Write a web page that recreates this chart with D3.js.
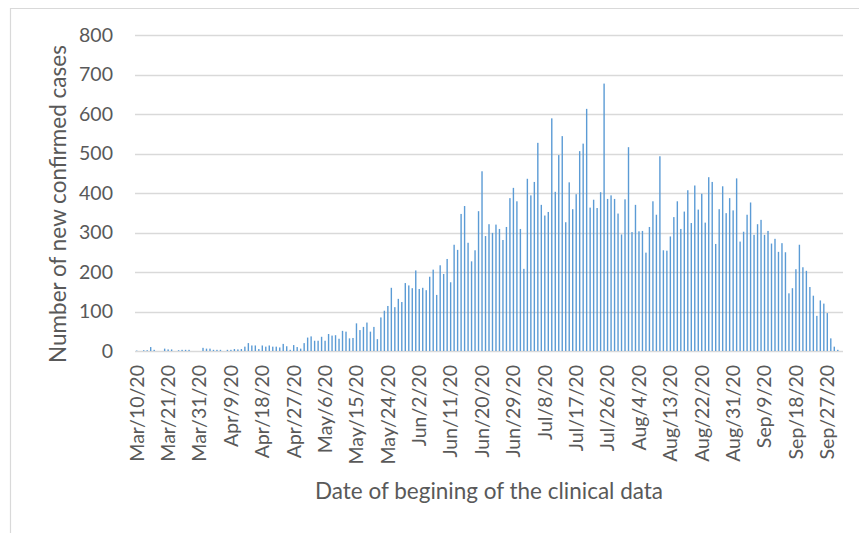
<!DOCTYPE html>
<html>
<head>
<meta charset="utf-8">
<script src="https://cdn.jsdelivr.net/npm/d3@7"></script>
<style>
  body { margin: 0; background: #ffffff; }
  text { font-family: Lato, "Open Sans", sans-serif; fill: #595959; }
</style>
</head>
<body>
<div id="chart"></div>
<script>

// #####################################################
// Data: daily new confirmed cases
//
var firstDay = '2020-03-10';
var lastDay = '2020-10-01';
// days with no record in the source sheet (category axis skips them)
var skippedDays = ['2020-03-12', '2020-03-15', '2020-03-26'];

var newCases = [
  1, 0, 2, 2, 10, 3, 0, 0, 6, 4,
  4, 0, 2, 3, 3, 3, 0, 0, 0, 8,
  6, 6, 3, 3, 3, 0, 3, 3, 5, 4,
  5, 11, 20, 14, 14, 5, 14, 11, 14, 11,
  11, 9, 18, 12, 3, 15, 10, 6, 20, 34,
  37, 26, 26, 36, 26, 43, 39, 40, 31, 51,
  49, 32, 33, 70, 53, 61, 72, 49, 61, 30,
  85, 102, 114, 160, 111, 132, 124, 172, 166, 159,
  204, 157, 160, 154, 188, 206, 142, 217, 195, 233,
  174, 269, 256, 347, 367, 274, 227, 255, 354, 455,
  291, 321, 299, 320, 309, 281, 314, 387, 413, 379,
  309, 208, 436, 394, 428, 527, 370, 343, 352, 589,
  403, 496, 544, 326, 427, 359, 397, 506, 525, 613,
  363, 383, 362, 402, 677, 385, 394, 385, 348, 295,
  384, 516, 301, 370, 303, 304, 249, 314, 379, 345,
  493, 255, 254, 290, 339, 379, 309, 353, 407, 324,
  419, 358, 398, 325, 440, 428, 271, 359, 417, 349,
  387, 356, 437, 277, 302, 345, 376, 294, 321, 332,
  294, 304, 272, 284, 251, 273, 250, 146, 159, 207,
  269, 212, 203, 162, 140, 89, 128, 120, 96, 32,
  11, 3, 0
];

var yTicks = [0, 100, 200, 300, 400, 500, 600, 700, 800];
var labelEvery = 9;

var yTitle = 'Number of new confirmed cases';
var xTitle = 'Date of begining of the clinical data';

// #####################################################
// Build the category list (dates)
//
var parseDay = d3.timeParse('%Y-%m-%d');
var fmtDay = d3.timeFormat('%b/%-d/%y');
var skipSet = new Set(skippedDays);

var days = d3.timeDay.range(parseDay(firstDay), d3.timeDay.offset(parseDay(lastDay), 1))
  .filter(function (d) { return !skipSet.has(d3.timeFormat('%Y-%m-%d')(d)); });

var data = days.map(function (d, i) {
  return { label: fmtDay(d), value: newCases[i] };
});

// #####################################################
// Plot
//
var W = 859, H = 533;
var margin = {top: 35, right: 16, bottom: 182, left: 135},
    width = W - margin.left - margin.right,
    height = H - margin.top - margin.bottom;

var svg = d3.select('#chart').append('svg')
    .attr('width', W)
    .attr('height', H);

// chart area frame (only top and left edge show in the picture)
svg.append('path')
    .attr('d', 'M10.5,533V8.5H859')
    .style('fill', 'none')
    .style('stroke', '#D9D9D9')
    .attr('stroke-width', 1.2);

var g = svg.append('g')
    .attr('transform', 'translate(' + margin.left + ',' + margin.top + ')');

var x = d3.scaleBand()
    .domain(data.map(function (d) { return d.label; }))
    .range([0, width])
    .paddingInner(0.6)
    .paddingOuter(0.3);

var y = d3.scaleLinear()
    .domain([0, 800])
    .range([height, 0]);

// gridlines
g.selectAll('line.grid')
    .data(yTicks)
    .enter().append('line')
      .attr('class', 'grid')
      .attr('x1', 0)
      .attr('x2', width)
      .attr('y1', function (d) { return Math.round(y(d)) + 0.5; })
      .attr('y2', function (d) { return Math.round(y(d)) + 0.5; })
      .style('stroke', '#D9D9D9')
      .attr('stroke-width', 1.3);

// y axis labels
var yAxis = g.append('g')
    .call(d3.axisLeft(y).tickValues(yTicks).tickSize(0).tickPadding(22));
yAxis.select('.domain').remove();
yAxis.selectAll('text')
    .style('font-size', '19.5px')
    .style('fill', '#595959');

// bars
g.selectAll('rect.bar')
    .data(data)
    .enter().append('rect')
      .attr('class', 'bar')
      .attr('x', function (d) { return x(d.label); })
      .attr('width', x.bandwidth())
      .attr('y', function (d) { return y(d.value); })
      .attr('height', function (d) { return height - y(d.value); })
      .style('fill', '#5B9BD5');

// x axis labels, every 9th category
var xAxis = g.append('g')
    .attr('transform', 'translate(0,' + height + ')')
    .call(d3.axisBottom(x)
      .tickValues(x.domain().filter(function (d, i) { return i % labelEvery === 0; }))
      .tickSize(0));
xAxis.select('.domain').remove();
xAxis.selectAll('text')
    .attr('transform', 'rotate(-90)')
    .attr('x', -14)
    .attr('y', 0)
    .attr('dy', '0.35em')
    .style('text-anchor', 'end')
    .style('font-size', '19.5px')
    .style('fill', '#595959');

// axis titles
svg.append('text')
    .attr('transform', 'translate(66,204) rotate(-90)')
    .style('text-anchor', 'middle')
    .style('font-size', '22.5px')
    .text(yTitle);

svg.append('text')
    .attr('x', 489)
    .attr('y', 499)
    .style('text-anchor', 'middle')
    .style('font-size', '22.5px')
    .text(xTitle);

</script>
</body>
</html>
